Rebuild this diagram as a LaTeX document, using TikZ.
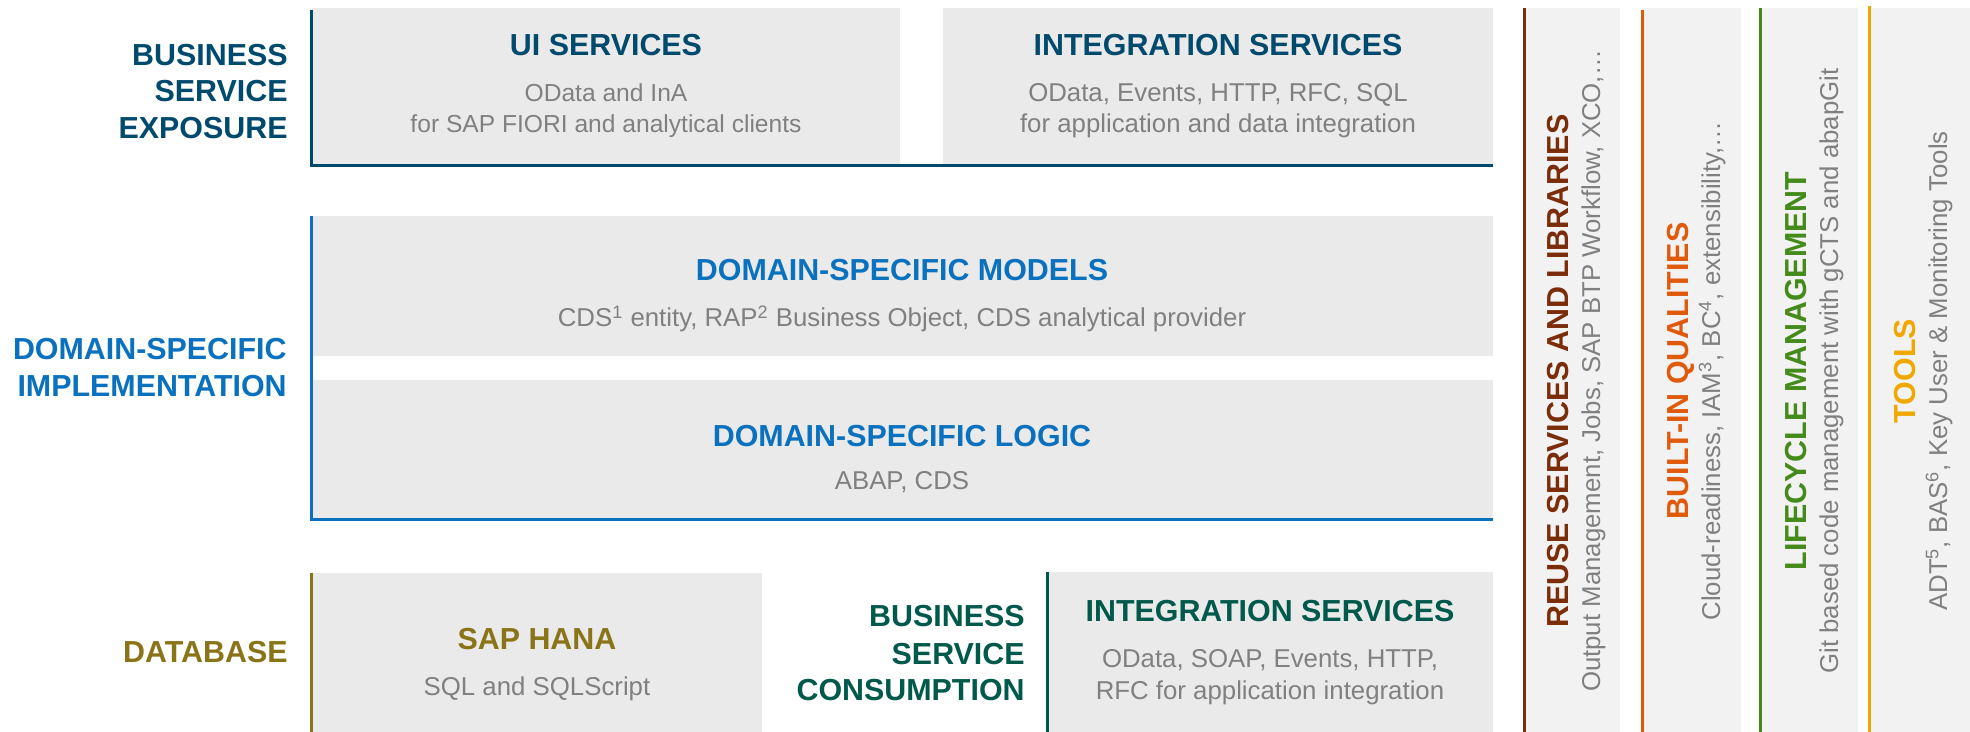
\documentclass[tikz,border=0pt]{standalone}
\usepackage{fontspec}
\setmainfont{Liberation Sans}
\definecolor{bsecol}{HTML}{004A6E}
\definecolor{dsicol}{HTML}{0A71BF}
\definecolor{dbcol}{HTML}{8A7418}
\definecolor{bsccol}{HTML}{00594B}
\definecolor{reusecol}{HTML}{7B2D0A}
\definecolor{builtcol}{HTML}{E05A0C}
\definecolor{lifecol}{HTML}{458B1B}
\definecolor{toolcol}{HTML}{F0A800}
\definecolor{txtgray}{HTML}{808080}
\definecolor{boxfill}{HTML}{EAEAEA}
\definecolor{colfill}{HTML}{F2F2F2}
\tikzset{
  ttl/.style={font=\fontsize{15.2}{18.5}\selectfont\bfseries, anchor=base, inner sep=0pt},
  subt/.style={font=\fontsize{12.9}{15.5}\selectfont, text=txtgray, anchor=base, inner sep=0pt},
  subn/.style={font=\fontsize{12.3}{15.5}\selectfont, text=txtgray, anchor=base, inner sep=0pt},
  lbl/.style={font=\fontsize{15.2}{18.5}\selectfont\bfseries, anchor=base east, inner sep=0pt},
  accent/.style={line width=1.5pt},
  vert/.style={rotate=90},
}
\begin{document}
\begin{tikzpicture}[x=0.5pt,y=-0.5pt]
\useasboundingbox (0,0) rectangle (1970,732);
\fill[white] (0,0) rectangle (1970,732);
% boxes
\fill[boxfill] (312,8) rectangle (900,166);
\fill[boxfill] (943,8) rectangle (1493,166);
\fill[boxfill] (312,216) rectangle (1493,356);
\fill[boxfill] (312,380) rectangle (1493,519);
\fill[boxfill] (312,573) rectangle (762,732);
\fill[boxfill] (1047,572) rectangle (1493,732);
\fill[colfill] (1524,8) rectangle (1620,732);
\fill[colfill] (1642,8) rectangle (1741,732);
\fill[colfill] (1760,8) rectangle (1858,732);
\fill[colfill] (1869,8) rectangle (1970,732);
% accent lines
\draw[accent,bsecol] (311,10) -- (311,166) -- (1493,166);
\draw[accent,dsicol] (311,216) -- (311,519) -- (1493,519);
\draw[accent,dbcol] (311,573) -- (311,732);
\draw[accent,bsccol] (1047,572) -- (1047,732);
\draw[accent,reusecol] (1524,8) -- (1524,732);
\draw[accent,builtcol] (1642,10) -- (1642,732);
\draw[accent,lifecol] (1760,8) -- (1760,732);
\draw[accent,toolcol] (1869,6) -- (1869,732);
% business service exposure
\node[lbl,text=bsecol] (bse1) at (288,66) {BUSINESS};
\node[lbl,text=bsecol] (bse2) at (288,102) {SERVICE};
\node[lbl,text=bsecol] (bse3) at (288,139) {EXPOSURE};
\node[ttl,text=bsecol] (uit) at (606,56) {UI SERVICES};
\node[subn] (uis1) at (606,102) {OData and InA};
\node[subn] (uis2) at (606,133) {for SAP FIORI and analytical clients};
\node[ttl,text=bsecol] (tit) at (1218,56) {INTEGRATION SERVICES};
\node[subt] (tis1) at (1218,102) {OData, Events, HTTP, RFC, SQL};
\node[subt] (tis2) at (1218,133) {for application and data integration};
% domain specific
\node[lbl,text=dsicol] (dsi1) at (287,360) {DOMAIN-SPECIFIC};
\node[lbl,text=dsicol] (dsi2) at (287,397) {IMPLEMENTATION};
\node[ttl,text=dsicol] (modt) at (902,281) {DOMAIN-SPECIFIC MODELS};
\node[subt] (mods) at (902,327) {CDS\textsuperscript{1} entity, RAP\textsuperscript{2} Business Object, CDS analytical provider};
\node[ttl,text=dsicol] (logt) at (902,446) {DOMAIN-SPECIFIC LOGIC};
\node[subt] (logs) at (902,489) {ABAP, CDS};
% database
\node[lbl,text=dbcol] (db) at (288,662) {DATABASE};
\node[ttl,text=dbcol] (hanat) at (537,649) {SAP HANA};
\node[subt] (hanas) at (537,695) {SQL and SQLScript};
% consumption
\node[lbl,text=bsccol] (bsc1) at (1025,626) {BUSINESS};
\node[lbl,text=bsccol] (bsc2) at (1025,664) {SERVICE};
\node[lbl,text=bsccol] (bsc3) at (1025,700) {CONSUMPTION};
\node[ttl,text=bsccol] (bit) at (1270,621) {INTEGRATION SERVICES};
\node[subt] (bis1) at (1270,667) {OData, SOAP, Events, HTTP,};
\node[subt] (bis2) at (1270,699) {RFC for application integration};
% columns
\node[ttl,vert,text=reusecol] (reut) at (1568,371) {REUSE SERVICES AND LIBRARIES};
\node[subt,vert] (reus) at (1600,371) {Output Management, Jobs, SAP BTP Workflow, XCO,…};
\node[ttl,vert,text=builtcol] (bilt) at (1688,371) {BUILT-IN QUALITIES};
\node[subt,vert] (bils) at (1720,371) {Cloud-readiness, IAM\textsuperscript{3}, BC\textsuperscript{4}, extensibility,…};
\node[ttl,vert,text=lifecol] (lift) at (1806,371) {LIFECYCLE MANAGEMENT};
\node[subt,vert] (lifs) at (1838,371) {Git based code management with gCTS and abapGit};
\node[ttl,vert,text=toolcol] (toot) at (1915,371) {TOOLS};
\node[subt,vert] (toos) at (1947,371) {ADT\textsuperscript{5}, BAS\textsuperscript{6}, Key User \& Monitoring Tools};
\end{tikzpicture}
\end{document}
